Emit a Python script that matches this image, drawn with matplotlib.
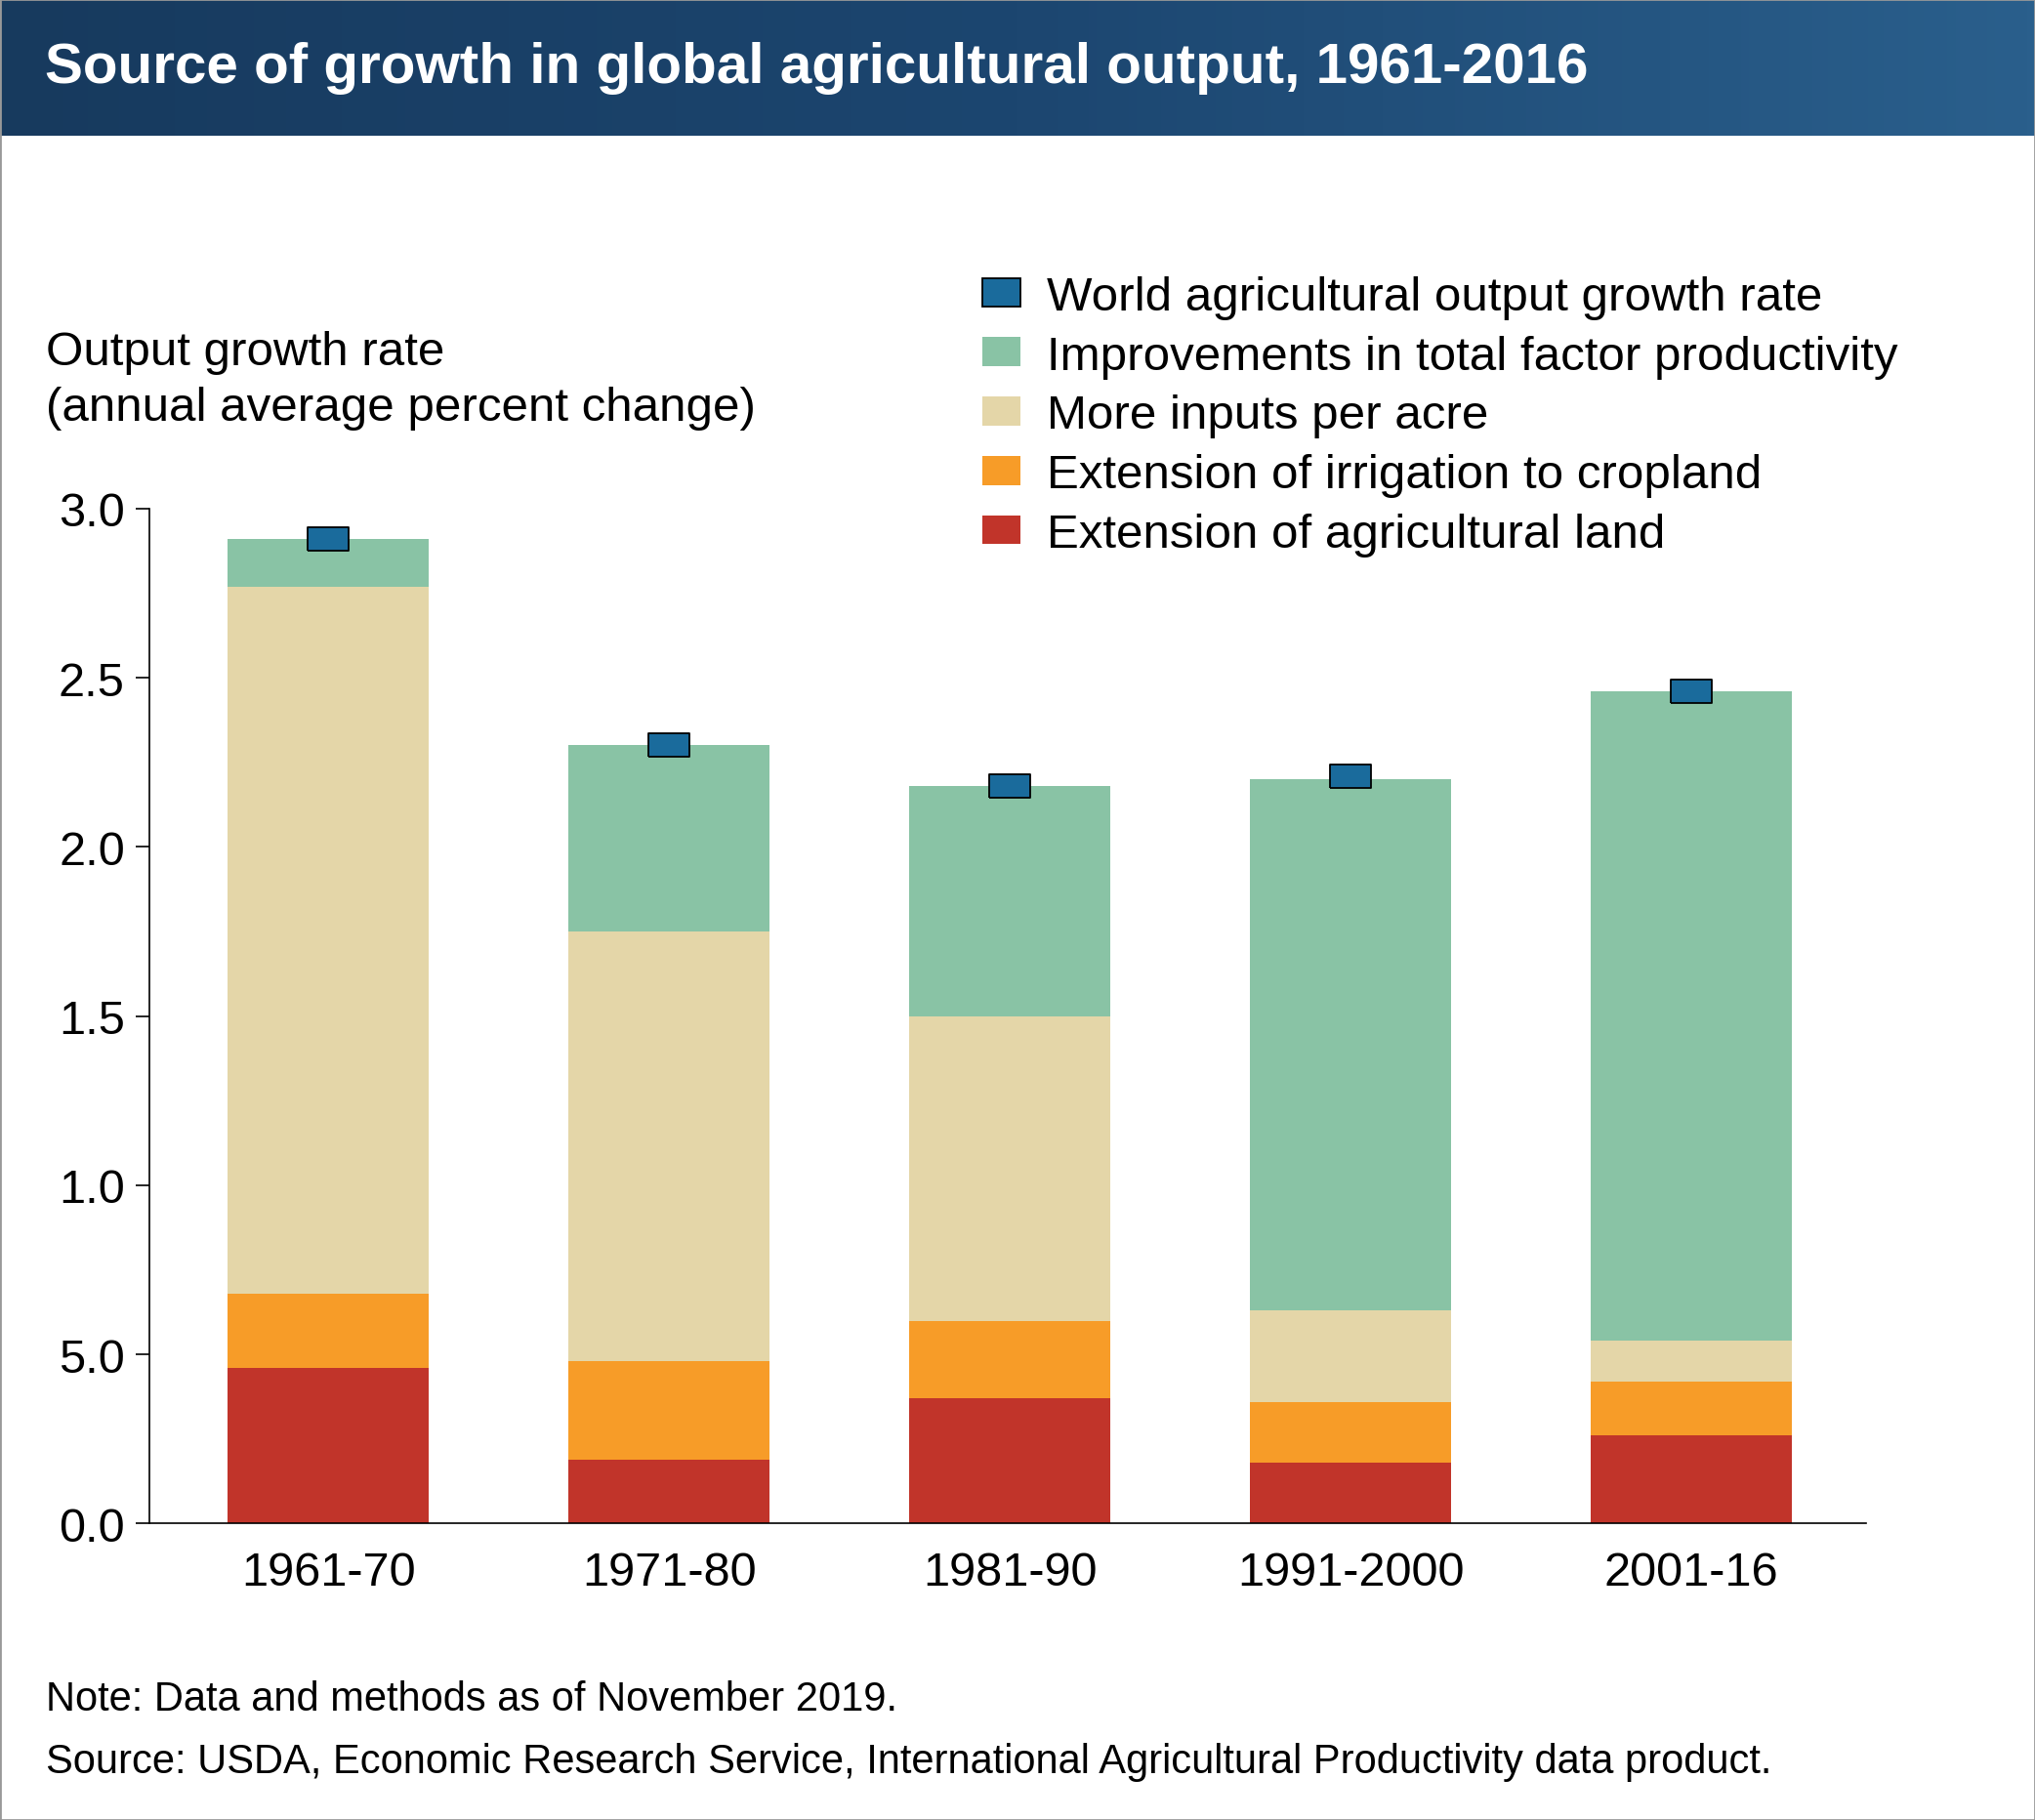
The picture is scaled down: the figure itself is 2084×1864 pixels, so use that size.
import numpy as np
import matplotlib
matplotlib.use("Agg")
import matplotlib.pyplot as plt
from matplotlib.patches import Patch
from matplotlib.colors import LinearSegmentedColormap

plt.rcParams['font.family'] = ['Liberation Sans', 'DejaVu Sans']

periods = ["1961-70", "1971-80", "1981-90", "1991-2000", "2001-16"]
land       = [0.46, 0.19, 0.37, 0.18, 0.26]
irrigation = [0.22, 0.29, 0.23, 0.18, 0.16]
inputs     = [2.09, 1.27, 0.90, 0.27, 0.12]
tfp        = [0.14, 0.55, 0.68, 1.57, 1.92]
output     = [2.91, 2.30, 2.18, 2.21, 2.46]
yticks      = [0.0, 0.5, 1.0, 1.5, 2.0, 2.5, 3.0]
ytick_labels = ["0.0", "5.0", "1.0", "1.5", "2.0", "2.5", "3.0"]

c_land, c_irr, c_inp, c_tfp, c_out = "#c1342a", "#f79c28", "#e4d6a8", "#89c3a5", "#1a6b9c"

W, H = 2084, 1865
fig = plt.figure(figsize=(W / 100, H / 100), dpi=100)

# header band with gradient
hax = fig.add_axes([0, 1 - 105 / 1401, 1, 105 / 1401])
grad = np.linspace(0, 1, 256)[None, :]
cm = LinearSegmentedColormap.from_list("hdr", ["#173a5e", "#1c4670", "#2a5f8c"])
hax.imshow(grad, aspect="auto", cmap=cm, extent=[0, 1, 0, 1])
hax.set_axis_off()
hax.text(0.022, 0.5, "Source of growth in global agricultural output, 1961-2016",
         color="white", fontsize=42, fontweight="bold", va="center", ha="left")

ax = fig.add_axes([115 / 1568, 1 - 1173 / 1401, (1438 - 115) / 1568, (1173 - 392) / 1401])
x = np.arange(len(periods))
w = 0.59
b1 = np.array(land)
b2 = b1 + np.array(irrigation)
b3 = b2 + np.array(inputs)
ax.bar(x, land, w, color=c_land)
ax.bar(x, irrigation, w, bottom=b1, color=c_irr)
ax.bar(x, inputs, w, bottom=b2, color=c_inp)
ax.bar(x, tfp, w, bottom=b3, color=c_tfp)
rect = [(-1, -0.6), (1, -0.6), (1, 0.6), (-1, 0.6), (-1, -0.6)]
ax.plot(x, output, linestyle="none", marker=rect, markersize=30,
        markerfacecolor=c_out, markeredgecolor="black", markeredgewidth=1.3, zorder=5)

ax.set_xlim(-0.526, 4.514)
ax.set_ylim(0, 3.0)
ax.set_yticks(yticks)
ax.set_yticklabels(ytick_labels)
ax.set_xticks(x)
ax.set_xticklabels(periods)
ax.tick_params(axis="y", labelsize=35, length=10, width=1.2, pad=8)
ax.tick_params(axis="x", labelsize=35, length=0, pad=20)
for s in ["top", "right"]:
    ax.spines[s].set_visible(False)
for s in ["left", "bottom"]:
    ax.spines[s].set_linewidth(1.2)

fig.text(35 / 1568, 1 - 255 / 1401, "Output growth rate\n(annual average percent change)",
         fontsize=35.5, ha="left", va="top", linespacing=1.32)

handles = [
    Patch(facecolor=c_out, edgecolor="black", linewidth=1.3),
    Patch(facecolor=c_tfp),
    Patch(facecolor=c_inp),
    Patch(facecolor=c_irr),
    Patch(facecolor=c_land),
]
labels = ["World agricultural output growth rate",
          "Improvements in total factor productivity",
          "More inputs per acre",
          "Extension of irrigation to cropland",
          "Extension of agricultural land"]
fig.legend(handles, labels, loc="upper left", bbox_to_anchor=(738 / 1568, 1 - 194 / 1401),
           frameon=False, fontsize=35.5, labelspacing=0.32, handlelength=0.8,
           handleheight=0.55, handletextpad=0.55, borderpad=0)

fig.text(35 / 1568, 1 - 1308 / 1401, "Note: Data and methods as of November 2019.",
         fontsize=30, ha="left", va="center")
fig.text(35 / 1568, 1 - 1356 / 1401,
         "Source: USDA, Economic Research Service, International Agricultural Productivity data product.",
         fontsize=30, ha="left", va="center")

fig.patches.append(plt.Rectangle((0, 0), 1, 1, transform=fig.transFigure, fill=False,
                                 edgecolor="#999999", linewidth=2))
fig.savefig("out.png", dpi=100)
